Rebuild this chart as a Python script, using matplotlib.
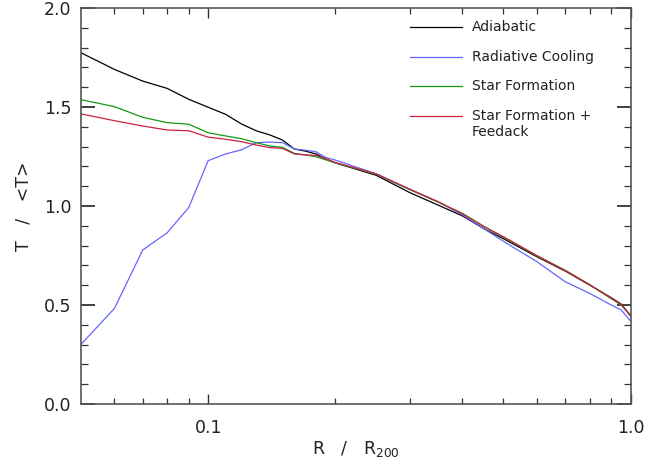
import numpy as np
import matplotlib
matplotlib.use("Agg")
import matplotlib.pyplot as plt
from matplotlib.ticker import FixedLocator, NullFormatter, FixedFormatter, MultipleLocator

# radius in units of R200
r = [0.05, 0.06, 0.07, 0.08, 0.09, 0.10, 0.11, 0.12, 0.13, 0.14, 0.15, 0.16,
     0.17, 0.18, 0.19, 0.20, 0.25, 0.30, 0.35, 0.40, 0.45, 0.50, 0.60, 0.70,
     0.80, 0.90, 0.95, 1.00]

adiabatic = [1.774, 1.690, 1.631, 1.594, 1.539, 1.499, 1.463, 1.414, 1.380, 1.359,
             1.333, 1.288, 1.277, 1.263, 1.238, 1.218, 1.155, 1.068, 1.005, 0.950,
             0.885, 0.835, 0.744, 0.672, 0.601, 0.537, 0.505, 0.445]
cooling = [0.301, 0.483, 0.778, 0.865, 0.993, 1.229, 1.263, 1.284, 1.320, 1.323,
           1.320, 1.288, 1.282, 1.274, 1.245, 1.232, 1.163, 1.085, 1.022, 0.955,
           0.885, 0.822, 0.719, 0.618, 0.559, 0.500, 0.475, 0.420]
starform = [1.537, 1.502, 1.448, 1.421, 1.413, 1.370, 1.354, 1.340, 1.320, 1.303,
            1.296, 1.266, 1.258, 1.249, 1.233, 1.218, 1.160, 1.083, 1.020, 0.963,
            0.897, 0.843, 0.748, 0.676, 0.603, 0.532, 0.500, 0.447]
feedback = [1.465, 1.431, 1.404, 1.384, 1.380, 1.348, 1.337, 1.325, 1.308, 1.295,
            1.291, 1.263, 1.258, 1.256, 1.238, 1.220, 1.162, 1.085, 1.022, 0.960,
            0.895, 0.845, 0.750, 0.674, 0.603, 0.535, 0.503, 0.448]

labels = ["Adiabatic", "Radiative Cooling", "Star Formation", "Star Formation +\nFeedack"]
colors = ["black", "#6666ff", "#119911", "#cc2244"]

fig = plt.figure(figsize=(6.59, 4.61), dpi=100)
ax = fig.add_axes([0.1229, 0.1236, 0.8339, 0.859])

for y, c in zip([adiabatic, cooling, starform, feedback], colors):
    ax.plot(r, y, color=c, lw=0.9)

ax.set_xscale("log")
ax.set_xlim(0.05, 1.0)
ax.set_ylim(0.0, 2.0)

ax.xaxis.set_major_locator(FixedLocator([0.1, 1.0]))
ax.xaxis.set_major_formatter(FixedFormatter(["0.1", "1.0"]))
ax.xaxis.set_minor_locator(FixedLocator([0.06, 0.07, 0.08, 0.09, 0.2, 0.3, 0.4,
                                         0.5, 0.6, 0.7, 0.8, 0.9]))
ax.xaxis.set_minor_formatter(NullFormatter())
ax.yaxis.set_major_locator(MultipleLocator(0.5))
ax.yaxis.set_minor_locator(MultipleLocator(0.1))
ax.yaxis.set_major_formatter(plt.FuncFormatter(lambda v, p: "%.1f" % v))

for s in ax.spines.values():
    s.set_color("#555555")
    s.set_linewidth(1.2)
ax.tick_params(which="both", direction="in", top=True, right=True,
               colors="#333333", labelcolor="#222222", labelsize=12.5)
ax.tick_params(axis="y", which="major", length=10, width=1.3, pad=7)
ax.tick_params(axis="y", which="minor", length=5, width=0.9)
ax.tick_params(axis="x", which="major", length=7, width=1.0, pad=11)
ax.tick_params(axis="x", which="minor", length=4, width=0.9)

ax.set_xlabel("R   /   R$_{200}$", fontsize=12.5, color="#222222", labelpad=1)
ax.set_ylabel("T   /   <T>", fontsize=12.5, color="#222222", labelpad=8)

# legend drawn by hand: handle on the first line of each label
row_y = [0.953, 0.877, 0.803, 0.727]
for lab, c, yy in zip(labels, colors, row_y):
    ax.plot([0.5985, 0.693], [yy, yy], color=c, lw=0.9, transform=ax.transAxes)
    for k, line in enumerate(lab.split("\n")):
        ax.text(0.711, yy - k * 0.04, line, transform=ax.transAxes,
                fontsize=10, color="#222222", va="center", ha="left")

fig.savefig("out.png", dpi=100)
